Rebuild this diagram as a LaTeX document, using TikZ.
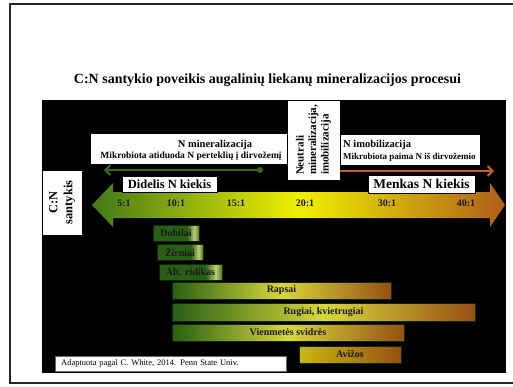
\documentclass[tikz,border=0pt]{standalone}
\usepackage{fontspec}
\setmainfont{Liberation Serif}
\usetikzlibrary{arrows.meta}

\definecolor{cngreen}{RGB}{65,120,25}
\definecolor{cnyellow}{RGB}{240,240,0}
\definecolor{cnbrown}{RGB}{175,95,25}
\definecolor{bardark}{RGB}{40,95,20}
\definecolor{barglow}{RGB}{190,205,120}
\definecolor{barend}{RGB}{80,120,30}
\definecolor{barlight}{RGB}{215,215,60}
\definecolor{barbrown}{RGB}{150,80,20}
\definecolor{baryellow}{RGB}{200,185,10}
\definecolor{minline}{RGB}{50,110,30}
\definecolor{imoline}{RGB}{185,100,40}

\pgfdeclarehorizontalshading{smallbar}{100bp}{color(0bp)=(bardark); color(25bp)=(bardark); color(62bp)=(bardark); color(70bp)=(barglow); color(75bp)=(barend); color(100bp)=(barend)}

\begin{document}
\begin{tikzpicture}[x=1pt,y=-1pt,
    whitebox/.style={draw=black,fill=white,inner sep=0pt},
    ratiolabel/.style={font=\fontsize{10}{12}\selectfont\bfseries,text=black!90},
    cropbar/.style={draw=black!60!bardark,inner sep=0pt,font=\fontsize{10}{12}\selectfont\bfseries,text=black!90},
    smallcrop/.style={cropbar,shading=smallbar,minimum height=16pt},
    bigcrop/.style={cropbar,left color=bardark,right color=barbrown,middle color=barlight,minimum height=17pt},
    flowarrow/.style={line width=2pt,-{Straight Barb[length=5pt,width=10pt]}}]
  \useasboundingbox (0,0) rectangle (513,386);
  % slide frame and title
  \draw[line width=2pt,black!85] (513,4) -- (10,4) -- (10,383) -- (513,383);
  \node[font=\fontsize{14}{16}\selectfont\bfseries] (title) at (267.5,80) {C:N santykio poveikis augalinių liekanų mineralizacijos procesui};
  \fill[black] (42,100) rectangle (506,373);
  % C:N scale
  \shade[left color=cngreen,right color=cnbrown,middle color=cnyellow]
    (92,205) -- (113,183) -- (113,192) -- (490,192) -- (490,183) -- (505,205)
    -- (490,227) -- (490,218) -- (113,218) -- (113,227) -- cycle;
  \foreach \r/\x in {5/124,10/176,15/236,20/305,30/387,40/466}
    \node[ratiolabel] (r\r) at (\x,203) {\r:1};
  \node[whitebox,rotate=90,minimum width=65pt,minimum height=40pt,align=center,font=\fontsize{12.5}{15}\selectfont\bfseries] (cnbox) at (62,202.5) {C:N\\santykis};
  \node[whitebox,minimum width=95pt,minimum height=16pt,font=\fontsize{12.5}{14}\selectfont\bfseries] (didelis) at (169.5,184) {Didelis N kiekis};
  \node[whitebox,minimum width=107pt,minimum height=18pt,font=\fontsize{13.5}{15}\selectfont\bfseries] (menkas) at (421.5,184) {Menkas N kiekis};
  % mineralizacija / imobilizacija
  \node[whitebox,minimum width=197pt,minimum height=31pt] (minbox) at (188.5,148.5) {};
  \node[font=\fontsize{10.5}{12}\selectfont\bfseries] (mintitle) at (215,144.5) {N mineralizacija};
  \node[font=\fontsize{9.5}{11}\selectfont\bfseries] (mintext) at (191,156.5) {Mikrobiota atiduoda N perteklių į dirvožemį};
  \node[whitebox,minimum width=140pt,minimum height=31pt] (imobox) at (410,149.5) {};
  \node[anchor=west,inner sep=0pt,font=\fontsize{10.5}{12}\selectfont\bfseries] (imotitle) at (343,144.5) {N imobilizacija};
  \node[anchor=west,inner sep=0pt,font=\fontsize{9}{11}\selectfont\bfseries] (imotext) at (343,157) {Mikrobiota paima N iš dirvožemio};
  \node[whitebox,rotate=90,minimum width=80pt,minimum height=53pt,align=left,font=\fontsize{11}{12.5}\selectfont\bfseries] (neutral) at (313.5,140) {Neutrali\\mineralizacija,\\imobilizacija};
  \coordinate (minstart) at (260,170);
  \coordinate (minend) at (104,170);
  \coordinate (imostart) at (340,171);
  \coordinate (imoend) at (494,171);
  \draw[flowarrow,minline] (minstart) -- (minend);
  \fill[minline] (minstart) circle (3);
  \draw[flowarrow,imoline] (imostart) -- (imoend);
  % crops
  \node[smallcrop,minimum width=46pt] (dobilai) at (176,233) {Dobilai};
  \node[smallcrop,minimum width=46pt] (zirniai) at (180,252) {Žirniai};
  \node[smallcrop,minimum width=63pt] (ridikas) at (190.5,272) {Alt. ridikas};
  \node[bigcrop,minimum width=219pt] (rapsai) at (281.5,290.5) {Rapsai};
  \node[bigcrop,minimum width=303pt,minimum height=18pt] (rugiai) at (323.5,312) {Rugiai, kvietrugiai};
  \node[bigcrop,minimum width=232pt] (svidres) at (288,332.5) {Vienmetės svidrės};
  \node[cropbar,left color=baryellow,right color=barbrown,minimum width=102pt,minimum height=17pt] (avizos) at (350,354.5) {Avižos};
  \node[draw=black!60,fill=white,anchor=north west,text width=219pt,inner xsep=6pt,inner ysep=0pt,minimum height=15pt,font=\fontsize{8.5}{10}\selectfont] (source) at (55,356) {Adaptuota pagal C. White, 2014. Penn State Univ.};
\end{tikzpicture}
\end{document}
